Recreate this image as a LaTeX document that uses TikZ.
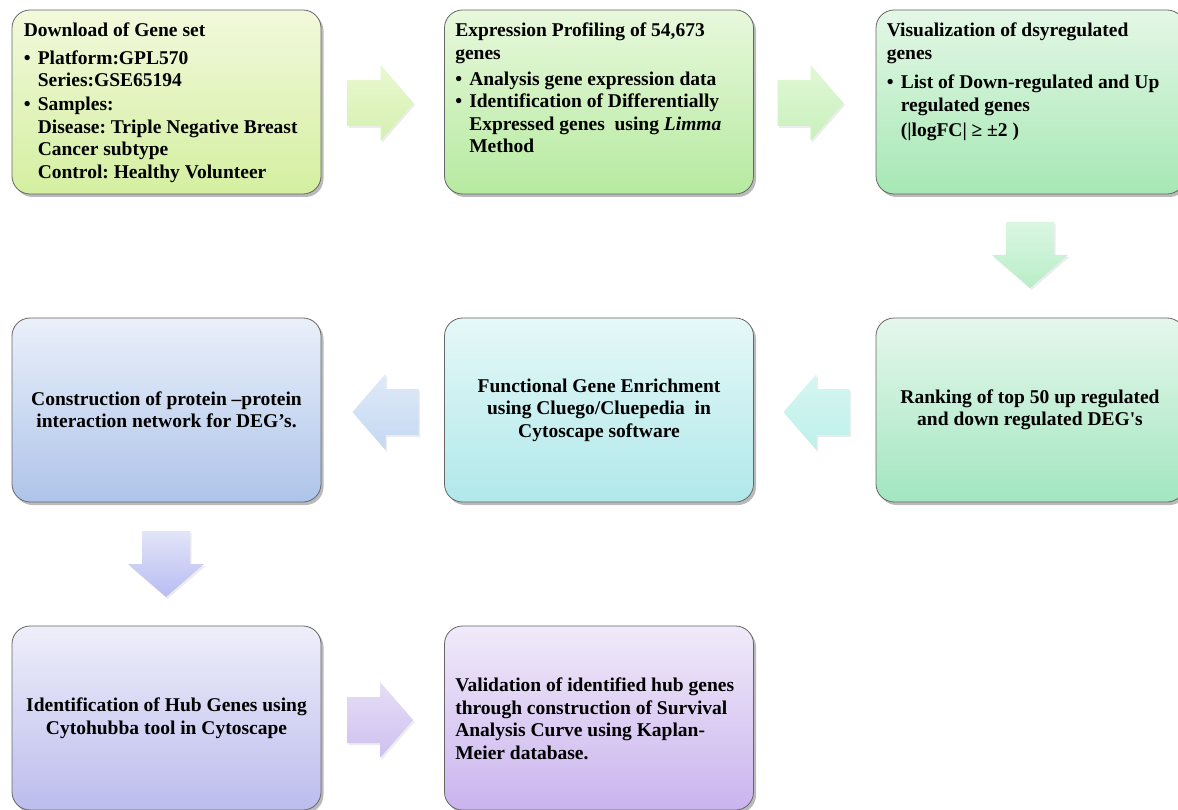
\documentclass[tikz,border=0pt]{standalone}
\usepackage{fontspec}
\setmainfont{Liberation Serif}
\usetikzlibrary{shadows,calc}
\newcommand\arrR[3]{\shade[arr,top color=#2,bottom color=#3] ($(#1)+(-33,-23)$) -- ($(#1)+(0,-23)$) -- ($(#1)+(0,-38)$) -- ($(#1)+(33,0)$) -- ($(#1)+(0,38)$) -- ($(#1)+(0,23)$) -- ($(#1)+(-33,23)$) -- cycle;}
\newcommand\arrL[3]{\shade[arr,top color=#2,bottom color=#3] ($(#1)+(33,-23)$) -- ($(#1)+(0,-23)$) -- ($(#1)+(0,-38)$) -- ($(#1)+(-33,0)$) -- ($(#1)+(0,38)$) -- ($(#1)+(0,23)$) -- ($(#1)+(33,23)$) -- cycle;}
\newcommand\arrD[3]{\shade[arr,top color=#2,bottom color=#3] ($(#1)+(-24,-33)$) -- ($(#1)+(-24,0)$) -- ($(#1)+(-38,0)$) -- ($(#1)+(0,33)$) -- ($(#1)+(38,0)$) -- ($(#1)+(24,0)$) -- ($(#1)+(24,-33)$) -- cycle;}
\newcommand\bul{\makebox[14pt][l]{\textbullet}}
\newcommand\ind{\hspace*{14pt}}
\frenchspacing
\begin{document}
\begin{tikzpicture}[x=1pt,y=-1pt,
  box/.style={rounded corners=18pt, draw=black!60, line width=0.8pt,
    minimum width=309pt, minimum height=184pt,
    drop shadow={shadow xshift=2.5pt, shadow yshift=-3pt, opacity=0.45, fill=black!60}},
  txt/.style={font=\fontsize{19.5}{22.5}\selectfont\bfseries, inner sep=0pt, align=left},
  ctxt/.style={txt, align=center},
  arr/.style={drop shadow={shadow xshift=1.5pt, shadow yshift=-2pt, opacity=0.15}}]
\useasboundingbox (0,0) rectangle (1178,810);
% boxes
\node[box, top color={rgb,255:red,242;green,249;blue,220}, bottom color={rgb,255:red,212;green,239;blue,160}] (b1) at (166.5,102) {};
\node[box, top color={rgb,255:red,232;green,248;blue,220}, bottom color={rgb,255:red,182;green,234;blue,160}] (b2) at (599,102) {};
\node[box, top color={rgb,255:red,228;green,247;blue,230}, bottom color={rgb,255:red,166;green,232;blue,180}] (b3) at (1030.5,102) {};
\node[box, top color={rgb,255:red,234;green,240;blue,250}, bottom color={rgb,255:red,174;green,196;blue,234}] (b4) at (166.5,410) {};
\node[box, top color={rgb,255:red,230;green,248;blue,248}, bottom color={rgb,255:red,176;green,232;blue,234}] (b5) at (599,410) {};
\node[box, top color={rgb,255:red,230;green,247;blue,236}, bottom color={rgb,255:red,162;green,230;blue,192}] (b6) at (1030.5,410) {};
\node[box, top color={rgb,255:red,238;green,238;blue,250}, bottom color={rgb,255:red,188;green,188;blue,238}] (b7) at (166.5,718) {};
\node[box, top color={rgb,255:red,240;green,234;blue,249}, bottom color={rgb,255:red,202;green,180;blue,238}] (b8) at (599,718) {};
% texts
\node[txt, anchor=north west] (t1) at ($(b1.north west)+(12,13)$) {Download of Gene set\\[5pt]
\bul Platform:GPL570\\
\ind Series:GSE65194\\[1.5pt]
\bul Samples:\\
\ind Disease: Triple Negative Breast\\
\ind Cancer subtype\\
\ind Control: Healthy Volunteer};
\node[txt, anchor=north west] (t2) at ($(b2.north west)+(11,13)$) {Expression Profiling of 54,673\\
genes\\[3.5pt]
\bul Analysis gene expression data\\
\bul Identification of Differentially\\
\ind Expressed genes\ \ using \textit{Limma}\\
\ind Method};
\node[txt, anchor=north west] (t3) at ($(b3.north west)+(11,13)$) {Visualization of dsyregulated\\
genes\\[7pt]
\bul List of Down-regulated and Up\\
\ind regulated genes\\[2.5pt]
\ind (|logFC| ≥ ±2 )};
\node[ctxt] (t4) at (b4.center) {Construction of protein –protein\\interaction network for DEG’s.};
\node[ctxt] (t5) at (b5.center) {Functional Gene Enrichment\\using Cluego/Cluepedia\ \ in\\Cytoscape software};
\node[ctxt] (t6) at (1030,410) {Ranking of top 50 up regulated\\and down regulated DEG\textquotesingle s};
\node[ctxt] (t7) at (b7.center) {Identification of Hub Genes using\\Cytohubba tool in Cytoscape};
\node[txt, anchor=west] (t8) at ($(b8.west)+(11,1)$) {Validation of identified hub genes\\
through construction of Survival\\
Analysis Curve using Kaplan-\\
Meier database.};
% block arrows
\coordinate (a1) at (380.5,103);
\coordinate (a2) at (810.5,103);
\coordinate (a3) at (1030,255);
\coordinate (a4) at (816.5,412);
\coordinate (a5) at (385.5,412);
\coordinate (a6) at (166,564);
\coordinate (a7) at (380,720);
\arrR{a1}{{rgb,255:red,234;green,248;blue,208}}{{rgb,255:red,212;green,240;blue,176}}
\arrR{a2}{{rgb,255:red,226;green,248;blue,214}}{{rgb,255:red,200;green,240;blue,188}}
\arrD{a3}{{rgb,255:red,218;green,246;blue,226}}{{rgb,255:red,184;green,238;blue,200}}
\arrL{a4}{{rgb,255:red,214;green,246;blue,242}}{{rgb,255:red,190;green,240;blue,234}}
\arrL{a5}{{rgb,255:red,222;green,234;blue,248}}{{rgb,255:red,196;green,216;blue,242}}
\arrD{a6}{{rgb,255:red,226;green,228;blue,248}}{{rgb,255:red,184;green,188;blue,242}}
\arrR{a7}{{rgb,255:red,230;green,222;blue,246}}{{rgb,255:red,206;green,192;blue,240}}
\end{tikzpicture}
\end{document}
